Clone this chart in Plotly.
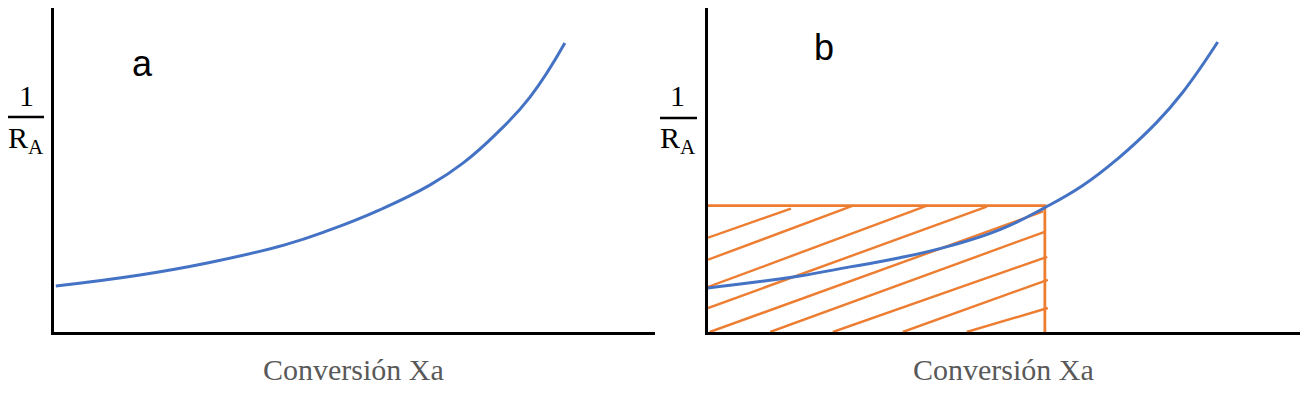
import plotly.graph_objects as go

# The page body adds an 8px margin, so the figure is laid out in reference pixels minus 8.
OFF = 8
W, H = 1310 - OFF, 398 - OFF

# Panel a curve (conversion fraction, 1/RA arbitrary units)
xa_curve = [0.003, 0.143, 0.255, 0.384, 0.459, 0.542, 0.626, 0.681, 0.737, 0.792, 0.850]
ya_curve = [0.142, 0.176, 0.213, 0.269, 0.315, 0.377, 0.454, 0.522, 0.614, 0.725, 0.892]

# Panel b curve
xb_curve = [0.0, 0.071, 0.155, 0.240, 0.324, 0.409, 0.493, 0.566, 0.633, 0.691, 0.758, 0.802, 0.861]
yb_curve = [0.136, 0.152, 0.173, 0.201, 0.229, 0.266, 0.316, 0.381, 0.452, 0.533, 0.647, 0.740, 0.895]

# Rectangle (area under 1/RA at exit conversion)
rect_x = [0.0, 0.569, 0.569]
rect_y = [0.390, 0.390, 0.0]

# Hatch segments (start x, start y, end x, end y)
hatch_x0 = [0.0, 0.0, 0.0, 0.0, 0.003, 0.105, 0.211, 0.329, 0.437]
hatch_y0 = [0.291, 0.223, 0.139, 0.074, 0.0, 0.0, 0.0, 0.0, 0.0]
hatch_x1 = [0.140, 0.245, 0.370, 0.471, 0.566, 0.570, 0.573, 0.574, 0.574]
hatch_y1 = [0.381, 0.390, 0.390, 0.387, 0.372, 0.310, 0.232, 0.161, 0.074]

x_title = "Conversión Xa"
panel_labels = ["a", "b"]

BLUE = "#4472C4"
ORANGE = "#ED7D31"

fig = go.Figure()

fig.add_trace(go.Scatter(x=xa_curve, y=ya_curve, mode="lines",
                         line=dict(color=BLUE, width=3, shape="spline", smoothing=1.3),
                         xaxis="x", yaxis="y", showlegend=False, hoverinfo="skip"))

hx, hy = [], []
for a, b, c, d in zip(hatch_x0, hatch_y0, hatch_x1, hatch_y1):
    hx += [a, c, None]
    hy += [b, d, None]
fig.add_trace(go.Scatter(x=hx, y=hy, mode="lines", line=dict(color=ORANGE, width=2.4),
                         xaxis="x2", yaxis="y2", showlegend=False, hoverinfo="skip"))
fig.add_trace(go.Scatter(x=rect_x, y=rect_y, mode="lines", line=dict(color=ORANGE, width=2.8),
                         xaxis="x2", yaxis="y2", showlegend=False, hoverinfo="skip"))
fig.add_trace(go.Scatter(x=xb_curve, y=yb_curve, mode="lines",
                         line=dict(color=BLUE, width=3, shape="spline", smoothing=1.3),
                         xaxis="x2", yaxis="y2", showlegend=False, hoverinfo="skip"))


def px(x):
    return (x - OFF) / W


def py(y):
    return 1 - (y - OFF) / H


ydom = [py(332), py(8)]
axis_common = dict(range=[0, 1], showgrid=False, zeroline=False, showticklabels=False, ticks="",
                   showline=True, linecolor="black", linewidth=3, fixedrange=True)
fig.update_layout(
    width=W, height=H, margin=dict(l=0, r=0, t=0, b=0),
    paper_bgcolor="white", plot_bgcolor="white",
    xaxis=dict(domain=[px(54), px(655)], anchor="y", **axis_common),
    yaxis=dict(domain=ydom, anchor="x", **axis_common),
    xaxis2=dict(domain=[px(708), px(1300)], anchor="y2", **axis_common),
    yaxis2=dict(domain=ydom, anchor="x2", **axis_common),
)

serif = "Liberation Serif, Times New Roman, serif"
anns = []
for cx, lab, lx, ly, fx in [(353, panel_labels[0], 142, 64, 26), (1003, panel_labels[1], 824, 48, 678)]:
    anns.append(dict(x=px(cx), y=py(369), xref="paper", yref="paper", text=x_title, showarrow=False,
                     font=dict(family=serif, size=30, color="#595959"), xanchor="center", yanchor="middle"))
    anns.append(dict(x=px(lx), y=py(ly), xref="paper", yref="paper", text=lab, showarrow=False,
                     font=dict(family="Liberation Sans, Arial, sans-serif", size=36, color="black"),
                     xanchor="center", yanchor="middle"))
    anns.append(dict(x=px(fx), y=py(95), xref="paper", yref="paper", text="1", showarrow=False,
                     font=dict(family=serif, size=30, color="black"), xanchor="center", yanchor="middle"))
    anns.append(dict(x=px(fx), y=py(140), xref="paper", yref="paper", text="R<sub>A</sub>", showarrow=False,
                     font=dict(family=serif, size=30, color="black"), xanchor="center", yanchor="middle"))

shapes = [
    dict(type="line", xref="paper", yref="paper", x0=px(8), x1=px(44), y0=py(117), y1=py(117),
         line=dict(color="black", width=2.5)),
    dict(type="line", xref="paper", yref="paper", x0=px(660), x1=px(697), y0=py(118), y1=py(118),
         line=dict(color="black", width=2.5)),
]
fig.update_layout(annotations=anns, shapes=shapes)

fig.write_html("out.html", config={"displayModeBar": False})
